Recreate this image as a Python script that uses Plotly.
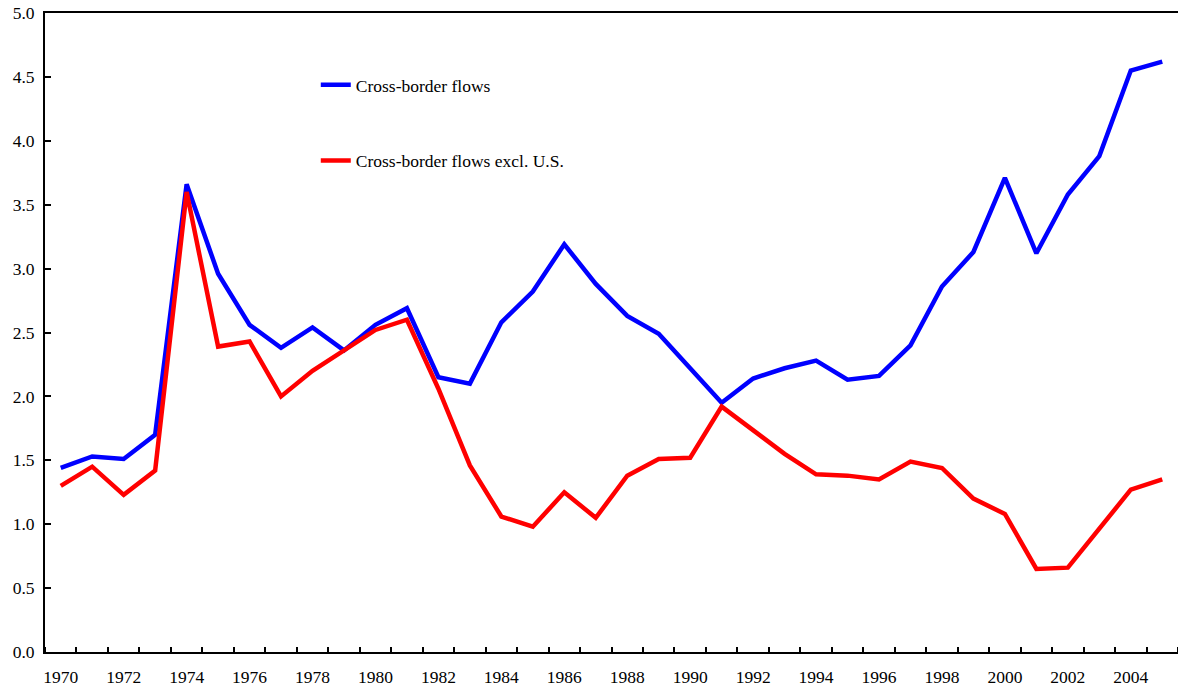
import plotly.graph_objects as go

years = list(range(1970, 2006))
cross_border = [1.44, 1.53, 1.51, 1.70, 3.66, 2.96, 2.56, 2.38, 2.54, 2.36,
                2.56, 2.69, 2.15, 2.10, 2.58, 2.82, 3.19, 2.88, 2.63, 2.49,
                2.22, 1.95, 2.14, 2.22, 2.28, 2.13, 2.16, 2.40, 2.86, 3.13,
                3.71, 3.12, 3.58, 3.88, 4.55, 4.62]
cross_border_ex_us = [1.30, 1.45, 1.23, 1.42, 3.60, 2.39, 2.43, 2.00, 2.20, 2.36,
                      2.52, 2.60, 2.06, 1.46, 1.06, 0.98, 1.25, 1.05, 1.38, 1.51,
                      1.52, 1.92, 1.74, 1.55, 1.39, 1.38, 1.35, 1.49, 1.44, 1.20,
                      1.08, 0.65, 0.66, 0.97, 1.27, 1.35]
x_labels = list(range(1970, 2006, 2))
y_ticks = [i * 0.5 for i in range(11)]

font = dict(family="Liberation Serif, Times New Roman, serif", size=17.5, color="black")

fig = go.Figure()
fig.add_trace(go.Scatter(x=years, y=cross_border, mode="lines", name="Cross-border flows",
                         line=dict(color="#0000FF", width=4.5), legendgroup="a"))
fig.add_trace(go.Scatter(x=years, y=cross_border_ex_us, mode="lines", name="Cross-border flows excl. U.S.",
                         line=dict(color="#FF0000", width=4.5), legendgroup="b"))

fig.update_layout(
    width=1178, height=687,
    margin=dict(l=45, r=0, t=13, b=35, autoexpand=False),
    paper_bgcolor="white", plot_bgcolor="white",
    font=font,
    showlegend=True,
    legend=dict(x=0.239, y=0.9155, xanchor="left", yanchor="top",
                bgcolor="rgba(0,0,0,0)", tracegroupgap=50,
                font=font),
    xaxis=dict(range=[1969.5, 2005.5], tickmode="array", tickvals=x_labels,
               ticktext=[str(v) for v in x_labels], ticks="", showgrid=False,
               zeroline=False, showline=True, linecolor="black", linewidth=2, mirror=True,
               ticklabelstandoff=8, ticklabeloverflow="allow", automargin=False,
               minor=dict(tickmode="linear", tick0=1969.5, dtick=1, ticks="inside",
                          ticklen=5, tickwidth=1.5, tickcolor="black", showgrid=False),
               tickfont=font),
    yaxis=dict(range=[0, 5], tickvals=y_ticks, tickformat=".1f", ticks="inside",
               ticklen=6, tickwidth=1.5, tickcolor="black", showgrid=False,
               ticklabelstandoff=5, ticklabeloverflow="allow", automargin=False,
               zeroline=False, showline=True, linecolor="black", linewidth=2, mirror=True,
               tickfont=font),
)
fig.write_html("out.html", config={"displayModeBar": False},
               post_script="document.body.style.margin='0';")
